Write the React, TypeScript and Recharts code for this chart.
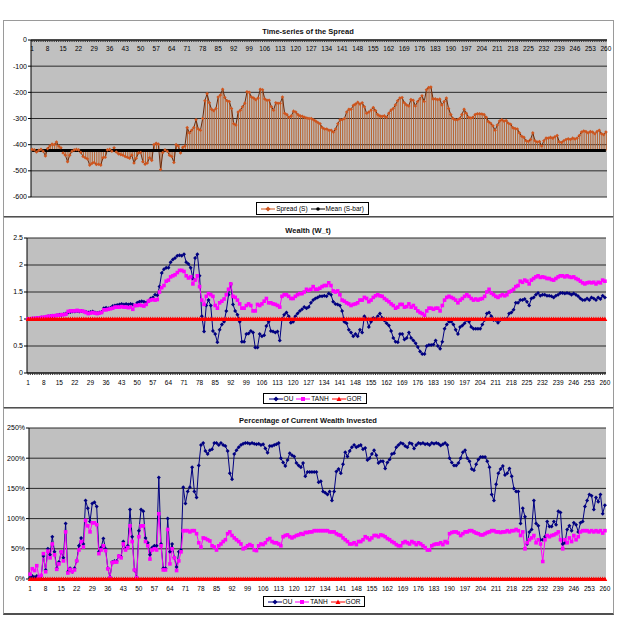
import React from "react";
import { ComposedChart, Line, Bar, XAxis, YAxis, CartesianGrid } from "recharts";

// categories 1..260 (trading days)
const categories = Array.from({ length: 260 }, (_, i) => i + 1);

const spreadValues = [
  -418, -420, -428, -422, -418, -425, -443, -415, -405, -398,
  -400, -390, -405, -412, -432, -440, -465, -440, -425, -420,
  -418, -420, -430, -445, -450, -455, -478, -472, -468, -476,
  -475, -478, -450, -448, -420, -418, -425, -412, -428, -435,
  -438, -440, -445, -448, -452, -440, -470, -452, -432, -430,
  -465, -475, -470, -450, -460, -400, -395, -398, -495, -430,
  -420, -425, -440, -445, -468, -400, -405, -432, -410, -405,
  -335, -355, -345, -335, -305, -340, -345, -300, -232, -205,
  -240, -265, -270, -262, -218, -210, -188, -220, -232, -235,
  -262, -320, -325, -275, -268, -255, -242, -198, -200, -218,
  -222, -228, -222, -188, -190, -225, -230, -230, -255, -268,
  -240, -242, -242, -218, -280, -285, -295, -290, -272, -275,
  -285, -290, -292, -295, -298, -300, -300, -305, -310, -315,
  -320, -335, -340, -340, -345, -345, -352, -340, -320, -305,
  -305, -300, -275, -265, -265, -250, -245, -238, -245, -240,
  -255, -280, -275, -268, -258, -270, -285, -290, -292, -290,
  -295, -280, -268, -262, -248, -232, -222, -220, -240, -248,
  -252, -228, -230, -252, -235, -225, -213, -235, -190, -182,
  -180, -225, -225, -228, -226, -248, -235, -222, -262, -285,
  -300, -305, -305, -300, -285, -265, -280, -295, -298, -295,
  -285, -282, -282, -283, -285, -295, -312, -318, -328, -345,
  -325, -310, -305, -310, -308, -318, -322, -335, -338, -340,
  -355, -368, -372, -385, -388, -380, -355, -385, -390, -388,
  -405, -385, -375, -375, -372, -375, -370, -365, -390, -392,
  -385, -380, -378, -380, -375, -378, -375, -365, -352, -348,
  -350, -355, -350, -352, -358, -350, -345, -358, -362, -352,
];
const spreadMean = -422;

const wealthOU = [
  1.0, 1.0, 1.01, 1.01, 1.02, 1.02, 1.03, 1.03, 1.04, 1.05,
  1.05, 1.06, 1.06, 1.07, 1.08, 1.08, 1.09, 1.1, 1.12, 1.13,
  1.14, 1.14, 1.15, 1.14, 1.15, 1.14, 1.13, 1.12, 1.13, 1.14,
  1.12, 1.11, 1.12, 1.13, 1.2, 1.21, 1.2, 1.21, 1.24, 1.25,
  1.26, 1.27, 1.28, 1.27, 1.28, 1.27, 1.28, 1.27, 1.25, 1.3,
  1.32, 1.33, 1.32, 1.3, 1.33, 1.38, 1.4, 1.45, 1.44, 1.6,
  1.85, 1.92, 1.95, 1.95, 2.05, 2.1, 2.13, 2.17, 2.18, 2.17,
  2.2, 2.05, 2.02, 1.95, 1.75, 2.13, 2.2, 1.8, 1.05, 0.77,
  1.25, 1.35, 1.25, 0.78, 0.72, 0.57, 0.8, 0.9, 0.95, 1.15,
  1.45, 1.65, 1.27, 1.15, 1.08, 0.95, 0.58, 0.58, 0.72, 0.73,
  0.78, 0.75, 0.47, 0.47, 0.72, 0.68, 0.7, 0.87, 0.95, 0.78,
  0.77, 0.75, 0.77, 0.6, 1.0, 1.08, 1.12, 1.05, 0.93, 0.95,
  1.05, 1.1, 1.15, 1.18, 1.22, 1.2, 1.22, 1.3, 1.35, 1.38,
  1.4, 1.42, 1.42, 1.43, 1.42, 1.47, 1.45, 1.32, 1.28, 1.27,
  1.25, 1.15, 0.95, 0.92, 0.8, 0.75, 0.68, 0.72, 0.68, 0.8,
  0.75, 1.05, 1.0, 0.85, 0.95, 1.02, 1.0, 1.05, 1.1, 1.02,
  0.97, 0.92, 0.88, 0.78, 0.65, 0.58, 0.57, 0.72, 0.72, 0.62,
  0.65, 0.75, 0.65, 0.6, 0.55, 0.48, 0.4, 0.35, 0.35, 0.5,
  0.52, 0.52, 0.53, 0.6, 0.5, 0.45, 0.58, 0.82, 0.9, 0.95,
  0.95, 0.9, 0.8, 0.72, 0.85, 0.88, 0.92, 0.98, 0.95, 0.85,
  0.82, 0.82, 0.82, 0.82, 0.9, 0.98, 1.1, 1.12, 1.05, 0.98,
  0.98, 0.93, 0.98, 1.0, 1.0, 1.0, 1.1, 1.12, 1.17, 1.3,
  1.3, 1.35, 1.35, 1.37, 1.32, 1.25, 1.38, 1.4, 1.45, 1.48,
  1.43, 1.45, 1.45, 1.43, 1.43, 1.42, 1.4, 1.43, 1.45, 1.48,
  1.48, 1.47, 1.48, 1.47, 1.45, 1.47, 1.45, 1.42, 1.38, 1.35,
  1.35, 1.38, 1.35, 1.4, 1.38, 1.35, 1.4, 1.37, 1.43, 1.4,
];

const wealthTANH = [
  1.0, 1.0, 1.01, 1.01, 1.02, 1.02, 1.03, 1.03, 1.04, 1.05,
  1.05, 1.06, 1.06, 1.07, 1.07, 1.08, 1.08, 1.09, 1.14, 1.15,
  1.15, 1.15, 1.16, 1.15, 1.15, 1.14, 1.12, 1.1, 1.11, 1.12,
  1.11, 1.1, 1.11, 1.12, 1.17, 1.17, 1.18, 1.19, 1.2, 1.22,
  1.22, 1.22, 1.23, 1.22, 1.22, 1.21, 1.22, 1.18, 1.25, 1.25,
  1.26, 1.25, 1.24, 1.27, 1.33, 1.35, 1.36, 1.35, 1.36, 1.5,
  1.58, 1.62, 1.7, 1.72, 1.78, 1.8, 1.82, 1.86, 1.9, 1.9,
  1.88, 1.8, 1.76, 1.78, 1.65, 1.72, 1.8, 1.6, 1.35, 1.27,
  1.42, 1.47, 1.45, 1.42, 1.25, 1.2, 1.3, 1.33, 1.37, 1.45,
  1.55, 1.65, 1.42, 1.4, 1.35, 1.28, 1.2, 1.2, 1.25, 1.28,
  1.25, 1.15, 1.15, 1.27, 1.25, 1.28, 1.33, 1.38, 1.3, 1.3,
  1.28, 1.27, 1.25, 1.22, 1.42, 1.45, 1.45, 1.42, 1.38, 1.38,
  1.42, 1.45, 1.47, 1.47, 1.5, 1.55, 1.53, 1.55, 1.6, 1.55,
  1.55, 1.57, 1.6, 1.62, 1.62, 1.67, 1.62, 1.52, 1.5, 1.52,
  1.45, 1.35, 1.33, 1.3, 1.28, 1.25, 1.27, 1.28, 1.3, 1.35,
  1.35, 1.4, 1.38, 1.32, 1.35, 1.4, 1.43, 1.45, 1.43, 1.42,
  1.38, 1.35, 1.32, 1.28, 1.25, 1.2, 1.22, 1.27, 1.27, 1.22,
  1.23, 1.28, 1.22, 1.25, 1.2, 1.15, 1.12, 1.1, 1.07, 1.15,
  1.2, 1.2, 1.18, 1.2, 1.2, 1.15, 1.25, 1.35, 1.4, 1.42,
  1.4, 1.38, 1.35, 1.3, 1.35, 1.38, 1.42, 1.45, 1.42, 1.38,
  1.35, 1.37, 1.35, 1.37, 1.38, 1.42, 1.5, 1.55, 1.48, 1.45,
  1.42, 1.4, 1.43, 1.45, 1.43, 1.45, 1.5, 1.52, 1.55, 1.6,
  1.62, 1.7, 1.68, 1.72, 1.7, 1.65, 1.72, 1.75, 1.78, 1.8,
  1.77, 1.78, 1.77, 1.75, 1.75, 1.73, 1.72, 1.75, 1.78, 1.8,
  1.8, 1.78, 1.8, 1.78, 1.77, 1.78, 1.75, 1.73, 1.7, 1.67,
  1.65, 1.67, 1.68, 1.67, 1.68, 1.65, 1.68, 1.67, 1.72, 1.7,
];
const wealthGOR = 1;

// percentage of current wealth invested (%)
const investOU = [
  2, 5, 3, 5, 2, 5, 38, 15, 50, 40,
  70, 45, 18, 28, 45, 35, 92, 12, 18, 12,
  18, 30, 55, 68, 58, 130, 117, 95, 125, 127,
  120, 45, 52, 67, 50, 18, 3, 28, 30, 30,
  38, 37, 62, 50, 55, 115, 70, 15, 3, 80,
  115, 112, 68, 60, 40, 52, 55, 55, 168, 58,
  18, 18, 100, 45, 58, 35, 20, 45, 48, 152,
  125, 145, 152, 185, 145, 135, 188, 222, 225, 212,
  207, 213, 215, 225, 225, 222, 225, 222, 220, 212,
  175, 165, 207, 213, 218, 222, 224, 225, 225, 224,
  225, 224, 223, 224, 222, 223, 216, 209, 220, 220,
  222, 223, 225, 200, 193, 187, 197, 208, 205, 203,
  192, 188, 185, 192, 170, 177, 177, 177, 177, 177,
  160, 162, 145, 143, 140, 145, 130, 145, 178, 182,
  175, 190, 210, 203, 212, 218, 222, 218, 220, 222,
  215, 217, 197, 200, 207, 213, 205, 192, 195, 195,
  183, 193, 198, 207, 208, 218, 222, 225, 224, 220,
  218, 225, 224, 216, 222, 225, 224, 225, 223, 224,
  222, 225, 224, 225, 224, 221, 223, 225, 222, 200,
  193, 188, 188, 192, 200, 210, 213, 200, 195, 182,
  180, 190, 198, 202, 202, 202, 195, 185, 140, 130,
  157, 175, 182, 187, 172, 175, 183, 170, 150, 145,
  145, 92, 117, 103, 58, 78, 82, 130, 92, 88,
  65, 65, 70, 95, 87, 87, 95, 90, 112, 110,
  58, 60, 82, 88, 80, 93, 90, 78, 93, 95,
  120, 130, 140, 138, 115, 135, 128, 140, 108, 122,
];

const investTANH = [
  8, 17, 14, 22, 3, 6, 42, 12, 46, 35,
  58, 40, 16, 25, 45, 30, 78, 10, 16, 12,
  15, 30, 48, 62, 53, 97, 88, 78, 93, 93,
  90, 42, 48, 55, 47, 17, 2, 27, 28, 28,
  38, 35, 58, 48, 52, 88, 62, 15, 2, 70,
  88, 88, 62, 55, 33, 48, 50, 48, 108, 55,
  15, 15, 82, 25, 50, 35, 14, 30, 45, 80,
  80, 80, 78, 80, 80, 75, 60, 53, 68, 67,
  65, 63, 55, 53, 48, 55, 58, 62, 65, 75,
  78, 72, 68, 65, 62, 58, 50, 52, 55, 57,
  55, 48, 47, 55, 58, 57, 60, 65, 67, 62,
  60, 60, 58, 55, 70, 72, 73, 70, 68, 70,
  72, 73, 75, 74, 77, 77, 78, 78, 80, 80,
  80, 80, 80, 80, 80, 78, 78, 78, 75, 73,
  72, 68, 65, 62, 58, 58, 60, 57, 62, 62,
  65, 70, 68, 65, 68, 72, 72, 70, 73, 72,
  70, 67, 65, 62, 60, 57, 55, 55, 60, 62,
  60, 58, 62, 60, 57, 60, 58, 55, 52, 48,
  48, 55, 57, 58, 58, 60, 57, 62, 60, 75,
  77, 78, 78, 76, 72, 75, 78, 78, 80, 80,
  78, 76, 75, 73, 73, 75, 77, 78, 80, 80,
  78, 78, 77, 78, 78, 80, 78, 80, 80, 82,
  80, 72, 78, 50, 60, 65, 68, 72, 60, 65,
  58, 29, 65, 72, 70, 72, 73, 75, 78, 65,
  50, 65, 60, 68, 62, 72, 65, 70, 78, 80,
  80, 80, 78, 80, 78, 80, 78, 80, 76, 80,
];
const investGOR = 0;

const spreadTicks = [0, -100, -200, -300, -400, -500, -600];
const wealthTicks = [0, 0.5, 1, 1.5, 2, 2.5];
const investTicks = [0, 50, 100, 150, 200, 250];

const spreadData = categories.map((c, i) => ({
  cat: c,
  spread: spreadValues[i],
  mean: spreadMean,
  hilo: [Math.min(spreadValues[i], spreadMean), Math.max(spreadValues[i], spreadMean)],
}));
const wealthData = categories.map((c, i) => ({
  cat: c,
  ou: wealthOU[i],
  tanh: wealthTANH[i],
  gor: wealthGOR,
}));
const investData = categories.map((c, i) => ({
  cat: c,
  ou: investOU[i],
  tanh: investTANH[i],
  gor: investGOR,
}));

const FONT = "'Liberation Sans', Arial, sans-serif";
const PLOT_BG = "#c0c0c0";
const GRID = "#2a2a2a";
const NAVY = "#000080";
const MAGENTA = "#ff00ff";
const RED = "#ff0000";
const SPREAD_LINE = "#6b2a0a";
const SPREAD_MARK = "#d0561e";
const HILO = "#b8602c";

const diamondDot = (color: string, r: number) => (props: any) => {
  const { cx, cy, index } = props;
  if (cx == null || cy == null) return <g key={`d${index}`} />;
  return (
    <path
      key={`d${index}`}
      d={`M${cx},${cy - r}L${cx + r},${cy}L${cx},${cy + r}L${cx - r},${cy}Z`}
      fill={color}
    />
  );
};

const squareDot = (color: string, r: number) => (props: any) => {
  const { cx, cy, index } = props;
  if (cx == null || cy == null) return <g key={`s${index}`} />;
  return <rect key={`s${index}`} x={cx - r} y={cy - r} width={2 * r} height={2 * r} fill={color} />;
};

const triangleDot = (color: string, r: number) => (props: any) => {
  const { cx, cy, index } = props;
  if (cx == null || cy == null) return <g key={`t${index}`} />;
  return (
    <path
      key={`t${index}`}
      d={`M${cx},${cy - r}L${cx + r},${cy + r * 0.8}L${cx - r},${cy + r * 0.8}Z`}
      fill={color}
    />
  );
};

// label every 7th category, tick mark on all of them
const CatTick = (props: any) => {
  const { x, y, payload } = props;
  if ((payload.value - 1) % 7 !== 0) return <g />;
  return (
    <text x={x} y={y} dy="0.71em" textAnchor="middle" fontSize={6.5} fill="#000" fontFamily={FONT}>
      {payload.value}
    </text>
  );
};

// the spread chart has its category labels hanging just under the top (zero) axis line
const TopCatTick = (props: any) => {
  const { x, payload } = props;
  if ((payload.value - 1) % 7 !== 0) return <g />;
  return (
    <text x={x} y={26} dy="0.71em" textAnchor="middle" fontSize={6.5} fill="#000" fontFamily={FONT}>
      {payload.value}
    </text>
  );
};

const LegendMark = ({ color, shape }: { color: string; shape: string }) => (
  <svg width={14} height={8} style={{ display: "inline-block", verticalAlign: "middle" }}>
    <line x1={0} y1={4} x2={14} y2={4} stroke={color} strokeWidth={1} />
    {shape === "diamond" && <path d="M7,1.5L9.5,4L7,6.5L4.5,4Z" fill={color} />}
    {shape === "square" && <rect x={5} y={2} width={4} height={4} fill={color} />}
    {shape === "triangle" && <path d="M7,1.5L9.5,6L4.5,6Z" fill={color} />}
    {shape === "circle" && <circle cx={7} cy={4} r={1.8} fill={color} />}
  </svg>
);

const Legend = ({
  left,
  top,
  width,
  height,
  items,
}: {
  left: number;
  top: number;
  width: number;
  height: number;
  items: { label: string; color: string; shape: string }[];
}) => (
  <div
    style={{
      position: "absolute",
      left,
      top,
      width,
      height,
      boxSizing: "border-box",
      border: "1px solid #000",
      background: "#fff",
      display: "flex",
      alignItems: "center",
      justifyContent: "center",
      gap: 3,
      fontSize: 6.5,
      fontFamily: FONT,
      whiteSpace: "nowrap",
      overflow: "hidden",
    }}
  >
    {items.map((it) => (
      <span key={it.label} style={{ display: "inline-flex", alignItems: "center", gap: 1 }}>
        <LegendMark color={it.color} shape={it.shape} />
        {it.label}
      </span>
    ))}
  </div>
);

const Title = ({ top, text }: { top: number; text: string }) => (
  <div
    style={{
      position: "absolute",
      left: 208,
      width: 200,
      top,
      textAlign: "center",
      fontSize: 7.5,
      fontWeight: "bold",
      fontFamily: FONT,
      color: "#111",
      lineHeight: "10px",
    }}
  >
    {text}
  </div>
);

const Panel = ({ top, height }: { top: number; height: number }) => (
  <div
    style={{
      position: "absolute",
      left: 3,
      top,
      width: 611,
      height,
      boxSizing: "border-box",
      borderLeft: "1px solid #9a9a9a",
      borderRight: "1px solid #9a9a9a",
      borderTop: "1px solid #9a9a9a",
      borderBottom: "2px solid #505050",
      background: "#fff",
    }}
  />
);

const yTick = { fontSize: 7, fill: "#000", fontFamily: FONT };

export default function App() {
  return (
    <div style={{ position: "absolute", left: 0, top: 0, width: 618, height: 618, background: "#fff", fontFamily: FONT }}>
      <Panel top={20} height={198} />
      <Panel top={217} height={192} />
      <Panel top={408} height={207} />

      <Title top={27} text="Time-series of the Spread" />
      <Title top={226} text="Wealth (W_t)" />
      <Title top={416} text="Percentage of Current Wealth Invested" />

      {/* Spread */}
      <div style={{ position: "absolute", left: 3, top: 20 }}>
        <ComposedChart
          width={611}
          height={197}
          data={spreadData}
          margin={{ top: 20, right: 7, bottom: 20, left: 0 }}
          barCategoryGap="20%"
        >
          <CartesianGrid vertical={false} stroke={GRID} fill={PLOT_BG} fillOpacity={1} />
          <XAxis
            dataKey="cat"
            type="category"
            scale="band"
            orientation="top"
            mirror
            height={12}
            interval={0}
            tickSize={2}
            tickMargin={4}
            tick={<TopCatTick />}
            axisLine={{ stroke: "#000" }}
            tickLine={{ stroke: "#333" }}
          />
          <YAxis
            domain={[-600, 0]}
            ticks={spreadTicks}
            interval={0}
            width={28}
            tickSize={3}
            tickMargin={1}
            tick={yTick}
            axisLine={{ stroke: "#000" }}
            tickLine={{ stroke: "#000" }}
          />
          <Bar dataKey="hilo" fill={HILO} barSize={1} isAnimationActive={false} />
          <Line
            dataKey="spread"
            stroke={SPREAD_LINE}
            strokeWidth={1}
            dot={diamondDot(SPREAD_MARK, 1.8)}
            isAnimationActive={false}
          />
          <Line dataKey="mean" stroke="#000" strokeWidth={3} dot={false} isAnimationActive={false} />
        </ComposedChart>
      </div>
      <Legend
        left={256}
        top={202}
        width={113}
        height={13}
        items={[
          { label: "Spread (S)", color: SPREAD_MARK, shape: "diamond" },
          { label: "Mean (S-bar)", color: "#000", shape: "circle" },
        ]}
      />

      {/* Wealth */}
      <div style={{ position: "absolute", left: 3, top: 217 }}>
        <ComposedChart width={611} height={191} data={wealthData} margin={{ top: 21, right: 8, bottom: 21, left: 0 }}>
          <CartesianGrid vertical={false} stroke={GRID} fill={PLOT_BG} fillOpacity={1} />
          <XAxis
            dataKey="cat"
            type="category"
            scale="band"
            height={14}
            interval={0}
            tickSize={2}
            tickMargin={5}
            tick={<CatTick />}
            axisLine={{ stroke: "#000" }}
            tickLine={{ stroke: "#333" }}
          />
          <YAxis
            domain={[0, 2.5]}
            ticks={wealthTicks}
            interval={0}
            width={24}
            tickSize={3}
            tickMargin={1}
            tick={yTick}
            axisLine={{ stroke: "#000" }}
            tickLine={{ stroke: "#000" }}
          />
          <Line dataKey="ou" stroke={NAVY} strokeWidth={1} dot={diamondDot(NAVY, 2)} isAnimationActive={false} />
          <Line dataKey="tanh" stroke={MAGENTA} strokeWidth={1} dot={squareDot(MAGENTA, 1.8)} isAnimationActive={false} />
          <Line dataKey="gor" stroke={RED} strokeWidth={1.5} dot={triangleDot(RED, 2.4)} isAnimationActive={false} />
        </ComposedChart>
      </div>
      <Legend
        left={263}
        top={393}
        width={104}
        height={11}
        items={[
          { label: "OU", color: NAVY, shape: "diamond" },
          { label: "TANH", color: MAGENTA, shape: "square" },
          { label: "GOR", color: RED, shape: "triangle" },
        ]}
      />

      {/* Percentage invested */}
      <div style={{ position: "absolute", left: 3, top: 408 }}>
        <ComposedChart width={611} height={206} data={investData} margin={{ top: 20, right: 8, bottom: 21, left: 0 }}>
          <CartesianGrid vertical={false} stroke={GRID} fill={PLOT_BG} fillOpacity={1} />
          <XAxis
            dataKey="cat"
            type="category"
            scale="band"
            height={14}
            interval={0}
            tickSize={2}
            tickMargin={5}
            tick={<CatTick />}
            axisLine={{ stroke: "#000" }}
            tickLine={{ stroke: "#333" }}
          />
          <YAxis
            domain={[0, 250]}
            ticks={investTicks}
            interval={0}
            width={26}
            tickSize={3}
            tickMargin={1}
            tick={yTick}
            tickFormatter={(v: number) => `${v}%`}
            axisLine={{ stroke: "#000" }}
            tickLine={{ stroke: "#000" }}
          />
          <Line dataKey="ou" stroke={NAVY} strokeWidth={1} dot={diamondDot(NAVY, 2)} isAnimationActive={false} />
          <Line dataKey="tanh" stroke={MAGENTA} strokeWidth={1} dot={squareDot(MAGENTA, 1.8)} isAnimationActive={false} />
          <Line dataKey="gor" stroke={RED} strokeWidth={1.5} dot={triangleDot(RED, 2.4)} isAnimationActive={false} />
        </ComposedChart>
      </div>
      <Legend
        left={263}
        top={596}
        width={102}
        height={11}
        items={[
          { label: "OU", color: NAVY, shape: "diamond" },
          { label: "TANH", color: MAGENTA, shape: "square" },
          { label: "GOR", color: RED, shape: "triangle" },
        ]}
      />
    </div>
  );
}
